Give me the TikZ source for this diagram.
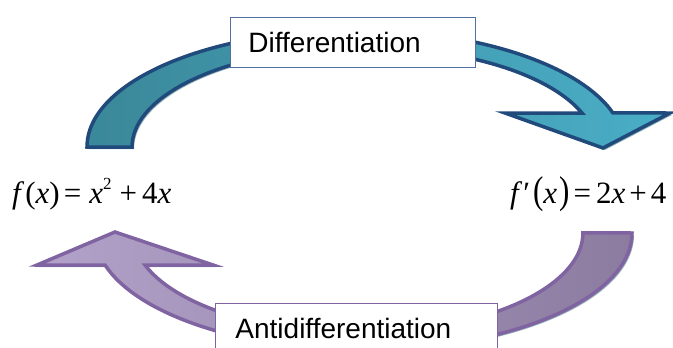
\documentclass[tikz,border=0pt]{standalone}
\usepackage{fontspec}
\setmainfont{Liberation Sans}
\newfontfamily\formulafont{Liberation Serif}
\usepackage{tikz}
\usetikzlibrary{shadows}
\definecolor{diffborder}{RGB}{33, 74, 124}
\definecolor{diffdark}{RGB}{58, 136, 153}
\definecolor{difflight}{RGB}{74, 174, 199}
\definecolor{antiborder}{RGB}{128, 100, 162}
\definecolor{antilight}{RGB}{178, 161, 200}
\definecolor{antidark}{RGB}{140, 124, 160}
\definecolor{shadowgrey}{RGB}{150, 180, 184}
\definecolor{boxblue}{RGB}{80, 112, 160}

\tikzset{
  bigarrow/.style={line width=3.5pt, line join=miter,
    drop shadow={shadow xshift=2pt, shadow yshift=-2pt, fill=shadowgrey, opacity=1}},
  labelbox/.style={draw, fill=white, line width=0.9pt, anchor=north west,
    inner ysep=0pt, minimum height=50pt, align=left,
    font=\fontsize{28}{32}\selectfont},
  formula/.style={anchor=base west, inner sep=0pt,
    font=\formulafont\fontsize{31}{34}\selectfont}
}
\newcommand{\bigparen}[1]{\scalebox{1}[1.25]{#1}}
\newcommand{\smalltwo}{\raisebox{0.42em}{\fontsize{17}{17}\selectfont 2}}

\begin{document}
\begin{tikzpicture}[x=1pt, y=-1pt]
    \useasboundingbox (0,0) rectangle (673,348);
    \clip (0,0) rectangle (673,348);

    % Arrows
    \draw[bigarrow, draw=diffborder, left color=diffdark, right color=difflight]
        (87,147) arc[start angle=180, end angle=343.1, x radius=268.8, y radius=117]
        -- (670,113) -- (603,148) -- (505,113) -- (582,113)
        arc[start angle=340.1, end angle=180, x radius=231.9, y radius=100] -- cycle;
    \draw[bigarrow, draw=antiborder, left color=antilight, right color=antidark]
        (632,233) arc[start angle=0, end angle=164.1, x radius=268.6, y radius=117]
        -- (37,265) -- (115,232) -- (213,265) -- (145,265)
        arc[start angle=161.3, end angle=0, x radius=224.9, y radius=100] -- cycle;

    % Labels
    \node[labelbox, draw=boxblue, inner xsep=18pt, text width=209pt] (diff) at (230,17) {Differentiation};
    \node[labelbox, draw=antiborder, inner xsep=20pt, text width=242pt] (anti) at (215,303) {Antidifferentiation};

    % Functions
    \node[formula] (f) at (12,203)
        {\textit{f}\hspace{1pt}(\textit{x})\hspace{4pt}=\hspace{8pt}\textit{x}\smalltwo\hspace{8pt}+\hspace{5pt}4\textit{x}};
    \node[formula] (fprime) at (510,203)
        {\textit{f}\hspace{1pt}′\hspace{3pt}\bigparen{(}\textit{x}\hspace{2pt}\bigparen{)}\hspace{4pt}=\hspace{5pt}2\textit{x}\hspace{4pt}+\hspace{4pt}4};
\end{tikzpicture}
\end{document}
